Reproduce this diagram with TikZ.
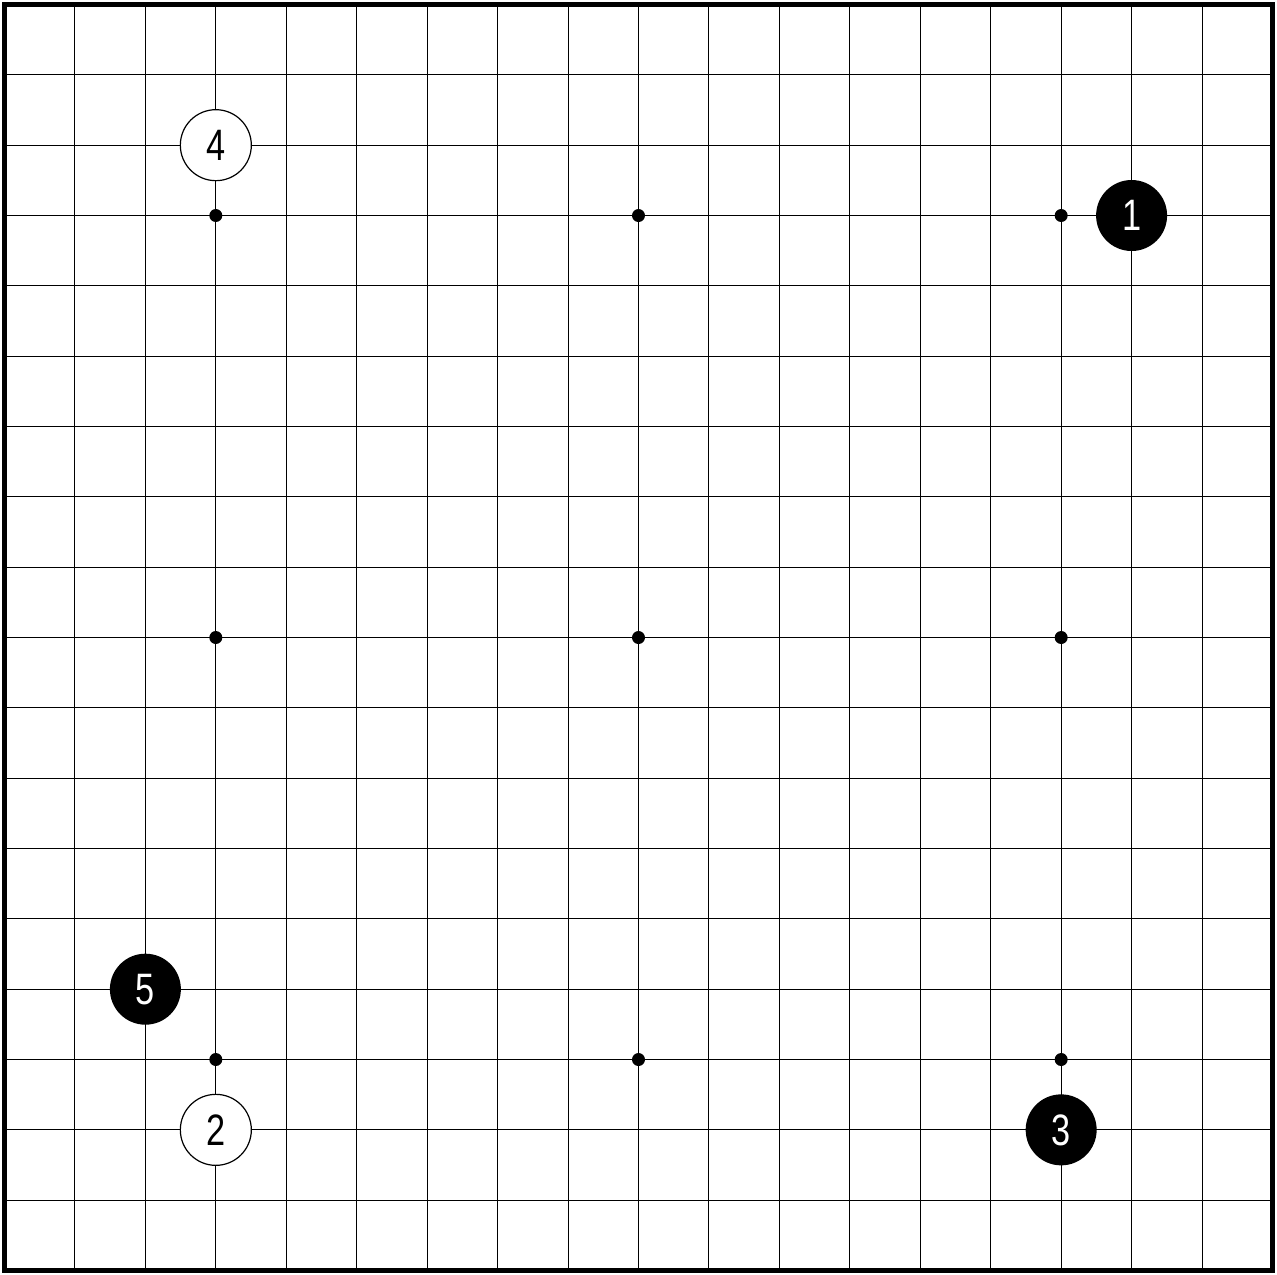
\documentclass[tikz,border=0pt]{standalone}
\usepackage{fontspec}
\setmainfont{Liberation Sans}
\newcommand{\stonenum}[1]{\scalebox{0.78}[1]{#1}}
\begin{document}
\begin{tikzpicture}[x=35.222pt,y=-35.167pt,
  gridline/.style={line width=0.55pt,black},
  boardedge/.style={line width=2.6pt,line cap=rect},
  starpt/.style={circle,fill=black,inner sep=0pt,minimum size=6.5pt},
  stone/.style={circle,inner sep=0pt,minimum size=35.5pt,font=\fontsize{22}{22}\selectfont},
  blackstone/.style={stone,fill=black,text=white},
  whitestone/.style={stone,fill=white,draw=black,line width=0.6pt}]
\useasboundingbox (-0.0639,-0.064) rectangle (18.064,18.05);
\fill[white] (-0.0639,-0.064) rectangle (18.064,18.05);
\foreach \k in {1,...,17}{
  \draw[gridline] (\k,0) -- (\k,18);
  \draw[gridline] (0,\k) -- (18,\k);
}
\draw[boardedge] (0,0) rectangle (18,18);
\foreach \i in {3,9,15}{
  \foreach \j in {3,9,15}{
    \node[starpt] (s\i-\j) at (\i,\j) {};
  }
}
\node[blackstone] (m1) at (16,3) {\stonenum{1}};
\node[whitestone] (m2) at (3,16) {\stonenum{2}};
\node[blackstone] (m3) at (15,16) {\stonenum{3}};
\node[whitestone] (m4) at (3,2) {\stonenum{4}};
\node[blackstone] (m5) at (2,14) {\stonenum{5}};
\end{tikzpicture}
\end{document}
